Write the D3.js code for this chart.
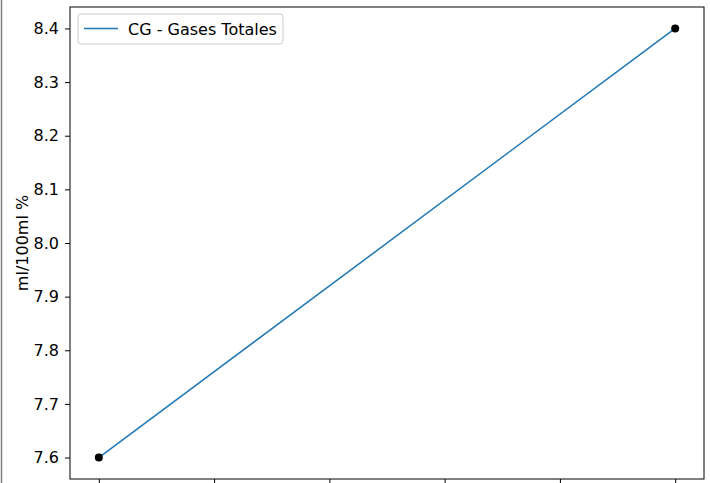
<!DOCTYPE html>
<html>
<head>
<meta charset="utf-8">
<script src="https://cdn.jsdelivr.net/npm/d3@7"></script>
<style>
  body { margin: 0; background: #fff; }
  text { font-family: "DejaVu Sans", sans-serif; }
</style>
</head>
<body>
<div class="chart"></div>
<script>
var xValues = [0, 1];
var yValues = [7.6, 8.4];
var xTicks = [0, 0.2, 0.4, 0.6, 0.8, 1.0];
var yTicks = [7.6, 7.7, 7.8, 7.9, 8.0, 8.1, 8.2, 8.3, 8.4];
var seriesName = "CG - Gases Totales";
var yLabel = "ml/100ml %";

var svgWidth = 710;
var svgHeight = 483;
var margin = { top: 7, right: 6, bottom: 4, left: 70 };
var width = svgWidth - margin.left - margin.right;
var height = 479 - margin.top;

var svg = d3.select(".chart")
    .append("svg")
    .attr("width", svgWidth)
    .attr("height", svgHeight);

// grey border on the left edge of the figure
svg.append("line")
    .attr("x1", 1.5).attr("x2", 1.5)
    .attr("y1", 0).attr("y2", svgHeight)
    .attr("stroke", "#808080")
    .attr("stroke-width", 1.5);

var chart = svg.append("g")
    .attr("transform", "translate(" + margin.left + "," + margin.top + ")");

var xLinearScale = d3.scaleLinear()
    .domain([-0.05, 1.05])
    .range([0, width]);

var yLinearScale = d3.scaleLinear()
    .domain([7.56, 8.44])
    .range([height, 0]);

var bottomAxis = d3.axisBottom(xLinearScale)
    .tickValues(xTicks)
    .tickSize(5)
    .tickFormat("");

var leftAxis = d3.axisLeft(yLinearScale)
    .tickValues(yTicks)
    .tickSize(5)
    .tickPadding(6)
    .tickFormat(d3.format(".1f"));

chart.append("g")
    .attr("transform", "translate(0," + height + ")")
    .call(bottomAxis);

chart.append("g")
    .call(leftAxis)
    .attr("font-family", "DejaVu Sans")
    .attr("font-size", 16)
    .selectAll("text")
    .attr("fill", "#000");

chart.selectAll(".domain").remove();
chart.selectAll(".tick line").attr("stroke", "#000").attr("stroke-width", 1);

// frame
chart.append("rect")
    .attr("x", 0).attr("y", 0)
    .attr("width", width).attr("height", height)
    .attr("fill", "none")
    .attr("stroke", "#000")
    .attr("stroke-width", 1);

var points = xValues.map(function(x, i) { return [x, yValues[i]]; });

var line = d3.line()
    .x(function(d) { return xLinearScale(d[0]); })
    .y(function(d) { return yLinearScale(d[1]); });

chart.append("path")
    .datum(points)
    .attr("d", line)
    .attr("fill", "none")
    .attr("stroke", "#1f77b4")
    .attr("stroke-width", 1.5);

chart.selectAll("circle")
    .data(points)
    .enter()
    .append("circle")
    .attr("cx", function(d) { return xLinearScale(d[0]); })
    .attr("cy", function(d) { return yLinearScale(d[1]); })
    .attr("r", 4)
    .attr("fill", "#000");

// y label
svg.append("text")
    .attr("transform", "translate(28," + (margin.top + height / 2) + ") rotate(-90)")
    .attr("text-anchor", "middle")
    .attr("font-size", "16px")
    .text(yLabel);

// legend
var legend = chart.append("g")
    .attr("transform", "translate(8,7)");

legend.append("rect")
    .attr("width", 205)
    .attr("height", 30)
    .attr("rx", 3)
    .attr("fill", "#fff")
    .attr("fill-opacity", 0.8)
    .attr("stroke", "#ccc")
    .attr("stroke-width", 1);

legend.append("line")
    .attr("x1", 6).attr("x2", 40)
    .attr("y1", 14.5).attr("y2", 14.5)
    .attr("stroke", "#1f77b4")
    .attr("stroke-width", 1.5);

legend.append("text")
    .attr("x", 50)
    .attr("y", 20.5)
    .attr("font-size", "16px")
    .text(seriesName);
</script>
</body>
</html>
